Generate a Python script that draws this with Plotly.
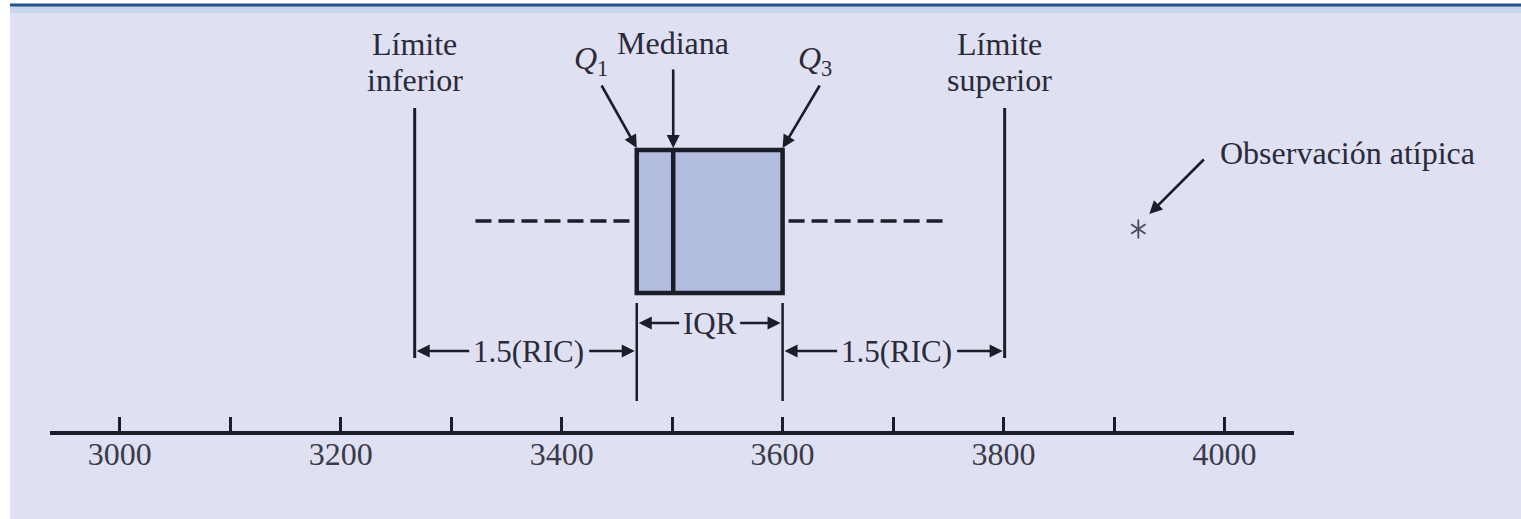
import plotly.graph_objects as go

# ---------------- data ----------------
tick_values = [3000, 3100, 3200, 3300, 3400, 3500, 3600, 3700, 3800, 3900, 4000]
tick_labels = ["3000", "", "3200", "", "3400", "", "3600", "", "3800", "", "4000"]

q1 = 3468
median = 3501
q3 = 3600
lower_limit = 3267
upper_limit = 3801
whisker_low = 3322
whisker_high = 3747
outliers = [3922]

# ---------------- style ----------------
FONT = "Liberation Serif"
INK = "#1d1d2a"
TXT = "#2a2a38"
BG = "#dfe0f1"
BOX_FILL = "#b3bde0"
W, H = 1521, 519
PX = 1 / 1.1048          # data units per pixel (horizontal)
X_RANGE = [2936.9, 4062.9]

# vertical layout rows (pixel rows, y axis is reversed pixel space)
BOX_TOP, BOX_BOT = 150, 293
MID = 221
LIM_TOP, LIM_BOT = 108, 358
EXT_TOP, EXT_BOT = 303, 401
IQR_Y, RIC_Y = 323, 351

fig = go.Figure()

# dashed whiskers
fig.add_trace(go.Scatter(x=[whisker_low, q1 - 7 * PX], y=[MID, MID], mode="lines",
                         line=dict(color=INK, width=3.5, dash="16px,7px"),
                         hoverinfo="skip", showlegend=False, cliponaxis=False))
fig.add_trace(go.Scatter(x=[q3 + 6 * PX, whisker_high], y=[MID, MID], mode="lines",
                         line=dict(color=INK, width=3.5, dash="16px,7px"),
                         hoverinfo="skip", showlegend=False, cliponaxis=False))

# outlier (six-armed asterisk)
for sym in ["y-up-open", "y-down-open"]:
    fig.add_trace(go.Scatter(x=outliers, y=[229] * len(outliers), mode="markers",
                             marker=dict(symbol=sym, size=12, color="#4a4a58",
                                         line=dict(color="#4a4a58", width=1.8)),
                             hoverinfo="skip", showlegend=False, cliponaxis=False))

shapes = []
# background & top border
shapes.append(dict(type="rect", xref="paper", yref="paper", x0=10 / W, x1=1, y0=0, y1=1 - 12 / H,
                   fillcolor=BG, line=dict(width=0), layer="below"))
shapes.append(dict(type="rect", xref="paper", yref="paper", x0=10 / W, x1=1, y0=1 - 13 / H, y1=1 - 6 / H,
                   fillcolor="#c9d7ee", line=dict(width=0), layer="below"))
shapes.append(dict(type="rect", xref="paper", yref="paper", x0=10 / W, x1=1, y0=1 - 6.5 / H, y1=1 - 3.5 / H,
                   fillcolor="#24528a", line=dict(width=0), layer="below"))
# box
shapes.append(dict(type="rect", xref="x", yref="y", x0=q1, x1=q3, y0=BOX_TOP, y1=BOX_BOT,
                   fillcolor=BOX_FILL, line=dict(color=INK, width=4.5)))
shapes.append(dict(type="line", xref="x", yref="y", x0=median, x1=median, y0=BOX_TOP, y1=BOX_BOT,
                   line=dict(color=INK, width=4.5)))
# limits
for xv in [lower_limit, upper_limit]:
    shapes.append(dict(type="line", xref="x", yref="y", x0=xv, x1=xv, y0=LIM_TOP, y1=LIM_BOT,
                       line=dict(color=INK, width=3)))
# Q1/Q3 extension lines
for xv in [q1, q3]:
    shapes.append(dict(type="line", xref="x", yref="y", x0=xv, x1=xv, y0=EXT_TOP, y1=EXT_BOT,
                       line=dict(color=INK, width=2.5)))

annotations = []


def txt(x, y, s, xanchor="center", size=32):
    annotations.append(dict(x=x, y=y, xref="x", yref="y", text=s, showarrow=False,
                            xanchor=xanchor, yanchor="middle",
                            font=dict(family=FONT, size=size, color=TXT)))


def arrow(x, y, ax, ay, width=2.6):
    annotations.append(dict(x=x, y=y, ax=ax, ay=ay, xref="x", yref="y", axref="x", ayref="y",
                            text="", showarrow=True, arrowhead=2, arrowsize=1.0,
                            arrowwidth=width, arrowcolor=INK, standoff=0, startstandoff=0))


# top labels
txt(lower_limit, 44, "Límite")
txt(lower_limit, 80, "inferior")
txt(upper_limit - 5 * PX, 44, "Límite")
txt(upper_limit - 5 * PX, 80, "superior")
txt(median, 43, "Mediana")
txt(q1 - 46 * PX, 60, "<i>Q</i><sub>1</sub>")
txt(q3 + 32 * PX, 60, "<i>Q</i><sub>3</sub>")

# pointing arrows
arrow(q1, BOX_TOP - 2, q1 - 36 * PX, 84)
arrow(median, BOX_TOP - 2, median, 68)
arrow(q3, BOX_TOP - 2, q3 + 38 * PX, 84)

# IQR
iqr_c = (q1 + q3) / 2
txt(iqr_c, IQR_Y, "IQR", size=31)
arrow(q1 + 2 * PX, IQR_Y, iqr_c - 29 * PX, IQR_Y)
arrow(q3 - 2 * PX, IQR_Y, iqr_c + 29 * PX, IQR_Y)

# 1.5(RIC)
for a, b in [(lower_limit, q1), (q3, upper_limit)]:
    c = (a + b) / 2
    txt(c + 3 * PX, RIC_Y, "1.5(RIC)", size=31)
    arrow(a + 2 * PX, RIC_Y, c - 55 * PX, RIC_Y)
    arrow(b - 2 * PX, RIC_Y, c + 62 * PX, RIC_Y)

# outlier label
txt(outliers[0] + 80 * PX, 153, "Observación atípica", xanchor="left")
arrow(outliers[0] + 11 * PX, 214, outliers[0] + 67 * PX, 158)

fig.update_layout(
    width=W, height=H, autosize=False,
    margin=dict(l=0, r=0, t=0, b=0, pad=0),
    paper_bgcolor="white", plot_bgcolor="rgba(0,0,0,0)",
    shapes=shapes, annotations=annotations, showlegend=False,
    xaxis=dict(domain=[50 / W, 1294 / W], range=X_RANGE, anchor="free", position=1 - 433 / H,
               showline=True, linecolor=INK, linewidth=4, mirror=False,
               ticks="inside", ticklen=14, tickwidth=3, tickcolor=INK,
               tickvals=tick_values, ticktext=tick_labels, ticklabelstandoff=-8,
               tickfont=dict(family=FONT, size=32, color="#3a3a48"),
               showgrid=False, zeroline=False, fixedrange=True),
    yaxis=dict(domain=[0, 1], range=[H, 0], visible=False, showgrid=False,
               zeroline=False, fixedrange=True),
)

fig.write_html("out.html", config={"displayModeBar": False},
               post_script="document.body.style.margin='0px';")
